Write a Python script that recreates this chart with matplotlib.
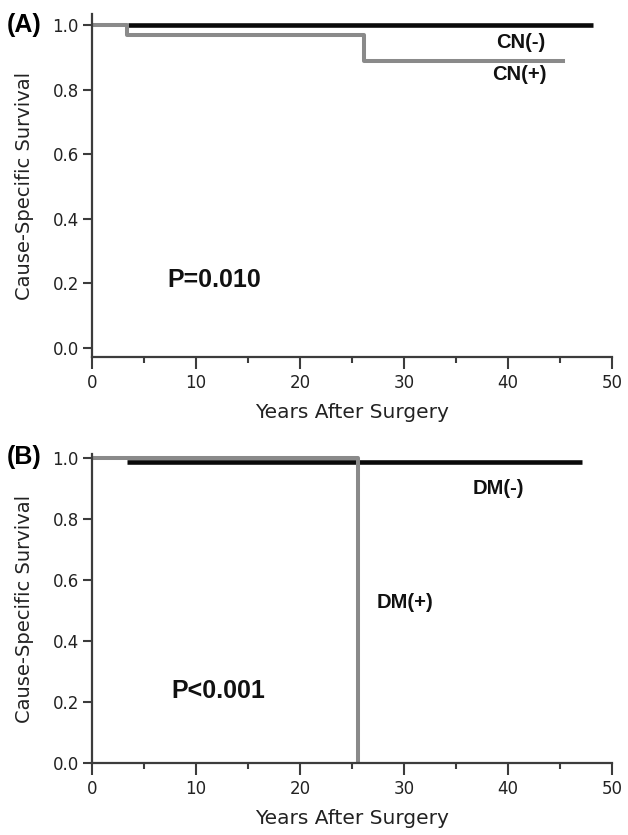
import matplotlib.pyplot as plt
from matplotlib.ticker import MultipleLocator

# Panel A: cervical node status
cn_neg_years = [3.5, 48.2]
cn_neg_surv = [1.0, 1.0]
cn_pos_years = [0.0, 3.4, 26.2, 45.3]
cn_pos_surv = [1.0, 0.968, 0.889, 0.889]

# Panel B: distant metastasis status
dm_neg_years = [3.4, 47.1]
dm_neg_surv = [0.988, 0.988]
dm_pos_years = [0.0, 25.6]
dm_pos_surv = [1.0, 0.0]

x_ticks = [0, 10, 20, 30, 40, 50]
y_ticks = [0.0, 0.2, 0.4, 0.6, 0.8, 1.0]

BLACK = '#0a0a0a'
GRAY = '#8a8a8a'
AXIS = '#3c3c3c'
TEXT = '#222222'


def style_axis(ax, ylim):
    ax.set_xlim(0, 50)
    ax.set_ylim(*ylim)
    ax.set_xticks(x_ticks)
    ax.xaxis.set_minor_locator(MultipleLocator(5))
    ax.set_yticks(y_ticks)
    ax.set_yticklabels([f'{v:.1f}' for v in y_ticks])
    for side in ['top', 'right']:
        ax.spines[side].set_visible(False)
    for side in ['left', 'bottom']:
        ax.spines[side].set_color(AXIS)
        ax.spines[side].set_linewidth(1.6)
    ax.tick_params(axis='both', which='both', direction='out', color=AXIS,
                   width=1.5, labelsize=12, labelcolor=TEXT)
    ax.tick_params(axis='x', which='major', length=8.5, pad=3.5)
    ax.tick_params(axis='x', which='minor', length=4.3)
    ax.tick_params(axis='y', which='major', length=6.5, pad=3)
    ax.set_xlabel('Years After Surgery', fontsize=14.5, color=TEXT, labelpad=8.5)
    ax.set_ylabel('Cause-Specific Survival', fontsize=14, color=TEXT)
    ax.yaxis.set_label_coords(-0.112, 0.5)


def bold_label(ax, x, y, s, size, ha='center'):
    ax.text(x, y, s, fontsize=size, fontweight='bold', family='Liberation Sans',
            ha=ha, va='center', color='#111111')


fig = plt.figure(figsize=(6.28, 8.35), dpi=100)

ax_a = fig.add_axes([0.1465, 0.5725, 0.828, 0.4108])
ax_a.plot(cn_neg_years, cn_neg_surv, color=BLACK, lw=3.3, solid_capstyle='butt')
ax_a.plot(cn_pos_years, cn_pos_surv, color=GRAY, lw=2.9, drawstyle='steps-post')
style_axis(ax_a, (-0.028, 1.034))
bold_label(ax_a, 41.2, 0.947, 'CN(-)', 14.5)
bold_label(ax_a, 41.1, 0.848, 'CN(+)', 14.5)
bold_label(ax_a, 7.2, 0.21, 'P=0.010', 18, ha='left')

ax_b = fig.add_axes([0.1465, 0.0862, 0.828, 0.3701])
ax_b.plot(dm_neg_years, dm_neg_surv, color=BLACK, lw=3.3, solid_capstyle='butt')
ax_b.plot(dm_pos_years, dm_pos_surv, color=GRAY, lw=2.9, drawstyle='steps-post')
style_axis(ax_b, (0.0, 1.013))
bold_label(ax_b, 39.1, 0.90, 'DM(-)', 14.5)
bold_label(ax_b, 27.4, 0.525, 'DM(+)', 14.5, ha='left')
bold_label(ax_b, 7.6, 0.236, 'P<0.001', 18, ha='left')

fig.text(0.011, 0.970, '(A)', fontsize=18, fontweight='bold',
         family='Liberation Sans', ha='left', va='center')
fig.text(0.011, 0.453, '(B)', fontsize=18, fontweight='bold',
         family='Liberation Sans', ha='left', va='center')

fig.savefig('out.png', dpi=100)
